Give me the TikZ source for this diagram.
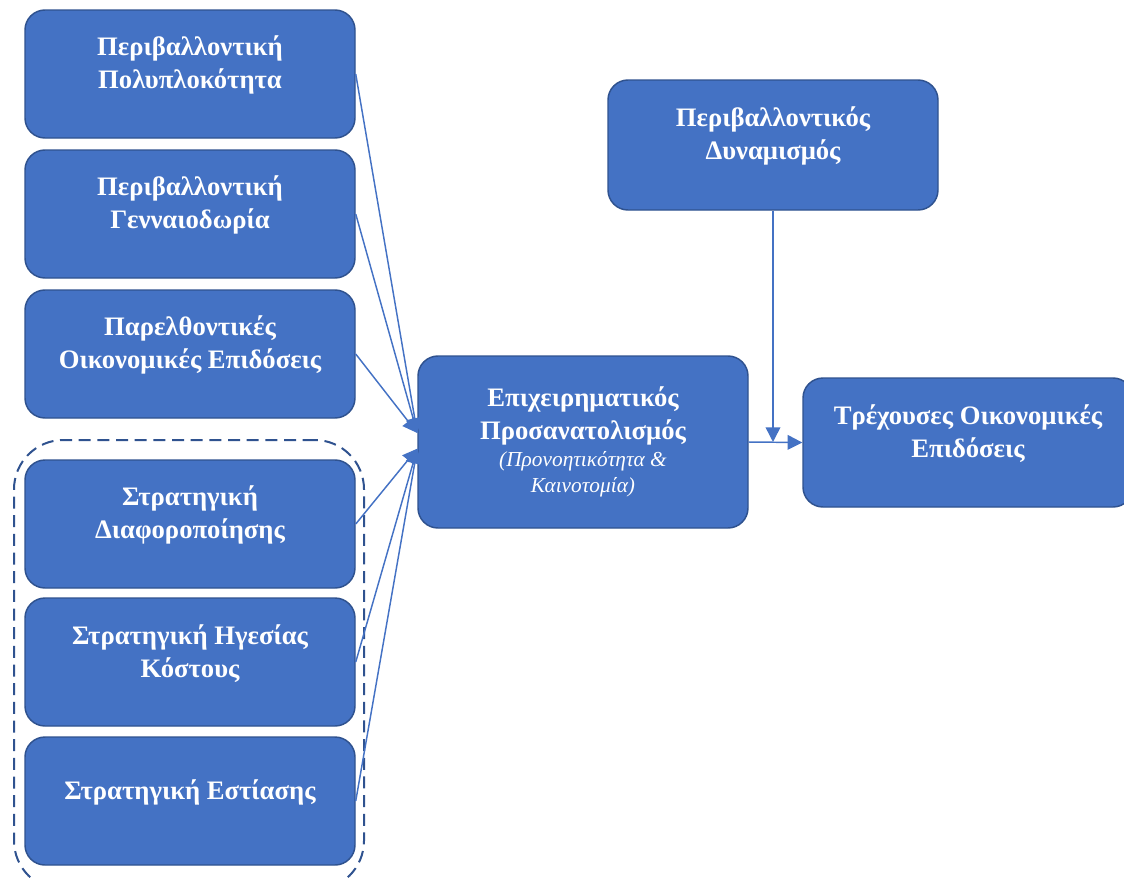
\documentclass[tikz,border=0pt]{standalone}
\usepackage{fontspec}
\setmainfont{Liberation Serif}
\usetikzlibrary{arrows.meta, positioning}
\definecolor{boxblue}{HTML}{4472C4}
\definecolor{edgeblue}{HTML}{2F528F}

\begin{document}
\begin{tikzpicture}[x=0.75pt, y=-0.75pt, >={Triangle[length=11pt, width=11pt]},
  box/.style={draw=edgeblue, line width=1.1pt, fill=boxblue, rounded corners=15pt,
              minimum width=247.5pt, minimum height=96pt, inner sep=0pt},
  lbl/.style={text=white, font=\bfseries\fontsize{20}{24.75}\selectfont,
              align=center, yshift=6.5pt},
  link/.style={draw=boxblue, line width=1.1pt, ->}]
  \useasboundingbox (0,0) rectangle (1124,879);

  % Strategy group (dashed)
  \node[draw=edgeblue, dashed, dash pattern=on 9pt off 5pt, line width=1.5pt,
        rounded corners=37pt, minimum width=262.5pt, minimum height=337.5pt]
        (strat) at (189,665) {};

  % Left column
  \node[box, label={[lbl]center:{Περιβαλλοντική\\Πολυπλοκότητα}}] (cplx) at (190,74) {};
  \node[box, label={[lbl]center:{Περιβαλλοντική\\Γενναιοδωρία}}] (gen) at (190,214) {};
  \node[box, label={[lbl]center:{Παρελθοντικές\\Οικονομικές Επιδόσεις}}] (past) at (190,354) {};
  \node[box, label={[lbl]center:{Στρατηγική\\Διαφοροποίησης}}] (diff) at (190,524) {};
  \node[box, label={[lbl]center:{Στρατηγική Ηγεσίας\\Κόστους}}] (cost) at (190,662) {};
  \node[box, label={[lbl]center:{Στρατηγική Εστίασης}}] (focus) at (190,801) {};

  % Centre and right
  \node[box, minimum height=129pt, text=white, align=center,
        font=\bfseries\fontsize{20}{24.75}\selectfont] (eo) at (583,442)
        {Επιχειρηματικός\\Προσανατολισμός\\[-5pt]
         {\mdseries\itshape\fontsize{16}{19}\selectfont (Προνοητικότητα \&}\\[-5pt]
         {\mdseries\itshape\fontsize{16}{19}\selectfont Καινοτομία)}};
  \node[box, minimum height=97.5pt, label={[lbl]center:{Περιβαλλοντικός\\Δυναμισμός}}]
        (dyn) at (773,145) {};
  \node[box, minimum height=96.75pt, label={[lbl]center:{Τρέχουσες Οικονομικές\\Επιδόσεις}}]
        (perf) at (968,442.5) {};

  % Arrows
  \coordinate (in-up) at ([yshift=6.75pt]eo.west);
  \coordinate (in-dn) at ([yshift=-5pt]eo.west);
  \foreach \src in {cplx,gen,past}
    \draw[link] (\src.east) -- (in-up);
  \foreach \src in {diff,cost,focus}
    \draw[link] (\src.east) -- (in-dn);
  \draw[link] (eo.east) -- (perf.west);
  \coordinate (meet) at (dyn.south |- eo.east);
  \draw[link] (dyn.south) -- (meet);
\end{tikzpicture}
\end{document}
